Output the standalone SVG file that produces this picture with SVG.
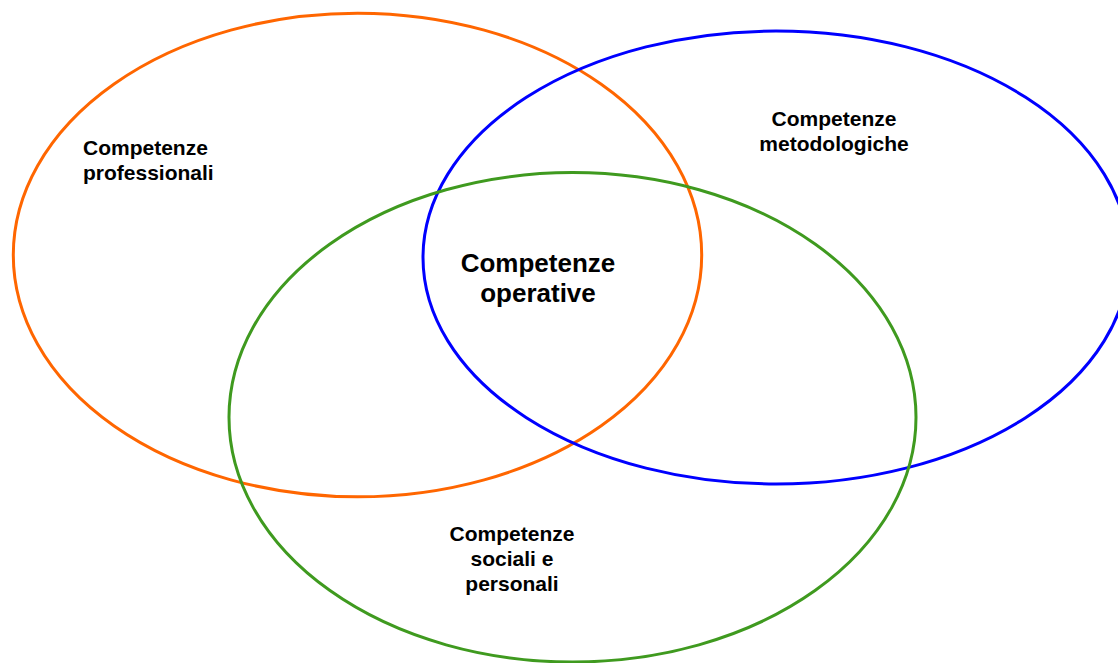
<svg xmlns="http://www.w3.org/2000/svg" width="1118" height="663" viewBox="0 0 1118 663">
<style>
.c{fill:none;stroke-width:3}
.t{font-family:"Liberation Sans",Arial,sans-serif;font-weight:bold;font-size:21px;fill:#000}
.big{font-size:26px}
</style>
<rect width="1118" height="663" fill="#fff"/>
<g id="professionali">
<ellipse class="c" cx="357.5" cy="255" rx="344.2" ry="241.8" stroke="#FF6600"/>
<text class="t" x="83" y="155">Competenze</text>
<text class="t" x="83" y="180">professionali</text>
</g>
<g id="metodologiche">
<ellipse class="c" cx="776" cy="257.5" rx="353" ry="226.5" stroke="#0000FF"/>
<text class="t" x="834" y="126" text-anchor="middle">Competenze</text>
<text class="t" x="834" y="151" text-anchor="middle">metodologiche</text>
</g>
<g id="sociali">
<ellipse class="c" cx="572.5" cy="417.3" rx="343.5" ry="244.7" stroke="#3F9A1F"/>
<text class="t" x="512" y="541" text-anchor="middle">Competenze</text>
<text class="t" x="512" y="566" text-anchor="middle">sociali e</text>
<text class="t" x="512" y="591" text-anchor="middle">personali</text>
</g>
<g id="operative">
<text class="t big" x="538" y="272" text-anchor="middle">Competenze</text>
<text class="t big" x="538" y="302" text-anchor="middle">operative</text>
</g>
<g id="connectors"/>
</svg>
